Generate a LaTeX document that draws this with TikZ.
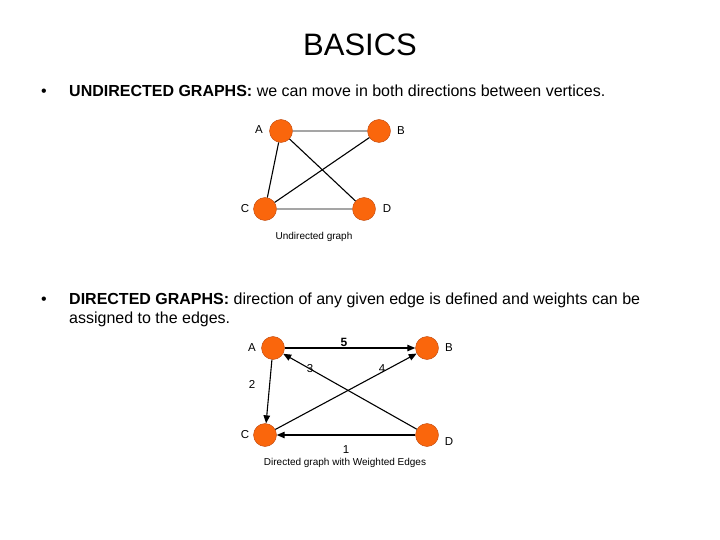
\documentclass[tikz,border=0pt]{standalone}
\usepackage{fontspec}
\setmainfont{Liberation Sans}
\usepackage{xcolor}
\usetikzlibrary{arrows.meta, positioning}
\definecolor{gOrange}{RGB}{250,102,12}
\definecolor{gRim}{RGB}{190,70,10}
\definecolor{gGrey}{RGB}{165,165,165}

\begin{document}
\begin{tikzpicture}[
    x=1pt, y=-1pt,
    vtx/.style={circle, fill=gOrange, draw=gRim, line width=0.4pt,
                minimum size=23pt, inner sep=0pt},
    lbl/.style={font=\fontsize{11.5}{13}\selectfont},
    body/.style={anchor=base west, inner sep=0pt, font=\fontsize{16}{19}\selectfont},
    caption/.style={font=\fontsize{10}{12}\selectfont},
    edge/.style={line width=1.1pt, black},
    soft/.style={line width=1.1pt, gGrey},
    arc/.style={line width=1.1pt, black, -{Triangle[length=8pt, width=6.5pt]}}
]
\useasboundingbox (0,0) rectangle (720,540);

% Title and bullets
\node[anchor=base, inner sep=0pt, font=\fontsize{31}{36}\selectfont] (title) at (360,56) {BASICS};
\node[body] (b1) at (41,97) {\textbullet};
\node[body] (u1) at (69,97) {\textbf{UNDIRECTED GRAPHS:} we can move in both directions between vertices.};
\node[body] (b2) at (41,304) {\textbullet};
\node[body] (d1) at (69,304) {\textbf{DIRECTED GRAPHS:} direction of any given edge is defined and weights can be};
\node[body] (d2) at (69,323) {assigned to the edges.};

% Undirected graph
\foreach \n/\x/\y/\lx/\ly in {A/281/131/259/130, B/379/131/401/131,
                              C/265/209/245/209, D/364/209/387/209} {
   \node[vtx] (u\n) at (\x,\y) {};
   \node[lbl] (ul\n) at (\lx,\ly) {\n};
}
\draw[soft] (uA) -- (uB);
\draw[soft] (uC) -- (uD);
\draw[edge] (uA) -- (uC);
\draw[edge] (uA) -- (uD);
\draw[edge] (uB) -- (uC);
\node[caption] (ucap) at (314,237) {Undirected graph};

% Directed graph with weights
\foreach \n/\x/\y/\lx/\ly in {A/273/348/252/348, B/427/348/449/348,
                              C/265/435/245/435, D/427/435/449/442} {
   \node[vtx] (d\n) at (\x,\y) {};
   \node[lbl] (dl\n) at (\lx,\ly) {\n};
}
\draw[arc] (dA) -- (dB);
\draw[arc] (dD) -- (dA);
\draw[arc] (dC) -- (dB);
\draw[arc] (dA) -- (dC);
\draw[arc] (dD) -- (dC);
\node[lbl, font=\fontsize{12}{14}\selectfont\bfseries] (w5) at (344,342) {5};
\node[lbl] (w3) at (310,369) {3};
\node[lbl] (w4) at (382,369) {4};
\node[lbl] (w2) at (252,384) {2};
\node[lbl] (w1) at (346,450) {1};
\node[caption] (dcap) at (345,463) {Directed graph with Weighted Edges};
\end{tikzpicture}
\end{document}
